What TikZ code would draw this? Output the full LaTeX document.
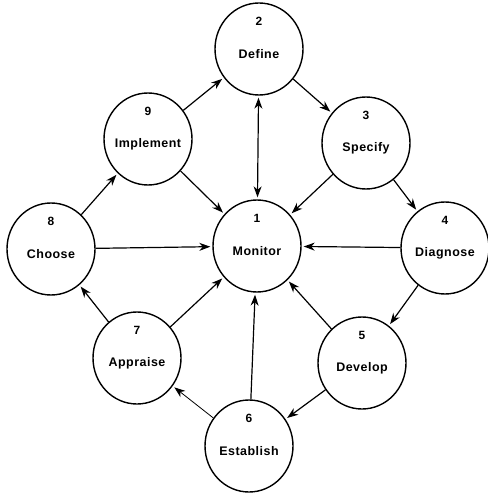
\documentclass[tikz,border=0pt]{standalone}
\usepackage{fontspec}
\setmainfont{Liberation Sans}
\usetikzlibrary{arrows.meta,shapes.geometric}

\tikzset{
  phase/.style={draw, ellipse, line width=1.4bp, minimum width=88bp, minimum height=92bp, inner sep=0pt},
  phasenum/.style={font=\fontsize{12}{14}\selectfont\bfseries, inner sep=0pt},
  phasename/.style={font=\fontsize{12.5}{14}\selectfont\bfseries\addfontfeature{LetterSpace=4}, inner sep=0pt},
  tip/.tip={Stealth[length=11bp,width=8bp,inset=3.5bp]},
  flow/.style={line width=1.2bp, -tip, shorten >=2bp},
  twoway/.style={line width=1.2bp, tip-tip, shorten >=2bp, shorten <=2bp}
}

\begin{document}
\begin{tikzpicture}[x=1bp,y=-1bp]
\useasboundingbox (0,0) rectangle (488,494);

% the nine phases of the cycle
\node[phase] (monitor)   at (257,246) {};
\node[phase] (define)    at (259,49)  {};
\node[phase] (specify)   at (366,143) {};
\node[phase] (diagnose)  at (445,248) {};
\node[phase] (develop)   at (362,363) {};
\node[phase] (establish) at (249,446) {};
\node[phase] (appraise)  at (137,358) {};
\node[phase] (choose)    at (51,249)  {};
\node[phase] (implement) at (148,139) {};

% number above, name just below the centre
\foreach \p/\n/\t in {monitor/1/Monitor, define/2/Define, specify/3/Specify,
  diagnose/4/Diagnose, develop/5/Develop, establish/6/Establish,
  appraise/7/Appraise, choose/8/Choose, implement/9/Implement}{
  \node[phasenum]  (\p-num)  at ([yshift=28bp]\p.center) {\n};
  \node[phasename] (\p-name) at ([yshift=-5bp]\p.center) {\t};
}

% outer cycle
\draw[flow] (implement) -- (define);
\draw[flow] (define) -- (specify);
\draw[flow] (specify) -- (diagnose);
\draw[flow] (diagnose) -- (develop);
\draw[flow] (develop) -- (establish);
\draw[flow, line width=0.8bp] (establish) -- (appraise);
\draw[flow] (appraise) -- (choose);
\draw[flow] (choose) -- (implement);

% links to the monitoring phase
\draw[twoway] (define) -- (monitor);
\draw[flow] (implement) -- (monitor);
\draw[flow] (specify) -- (monitor);
\draw[flow] (choose) -- (monitor);
\draw[flow] (diagnose) -- (monitor);
\draw[flow] (appraise) -- (monitor);
\draw[flow] (develop) -- (monitor);
\draw[flow] (establish) -- (monitor);
\end{tikzpicture}
\end{document}
